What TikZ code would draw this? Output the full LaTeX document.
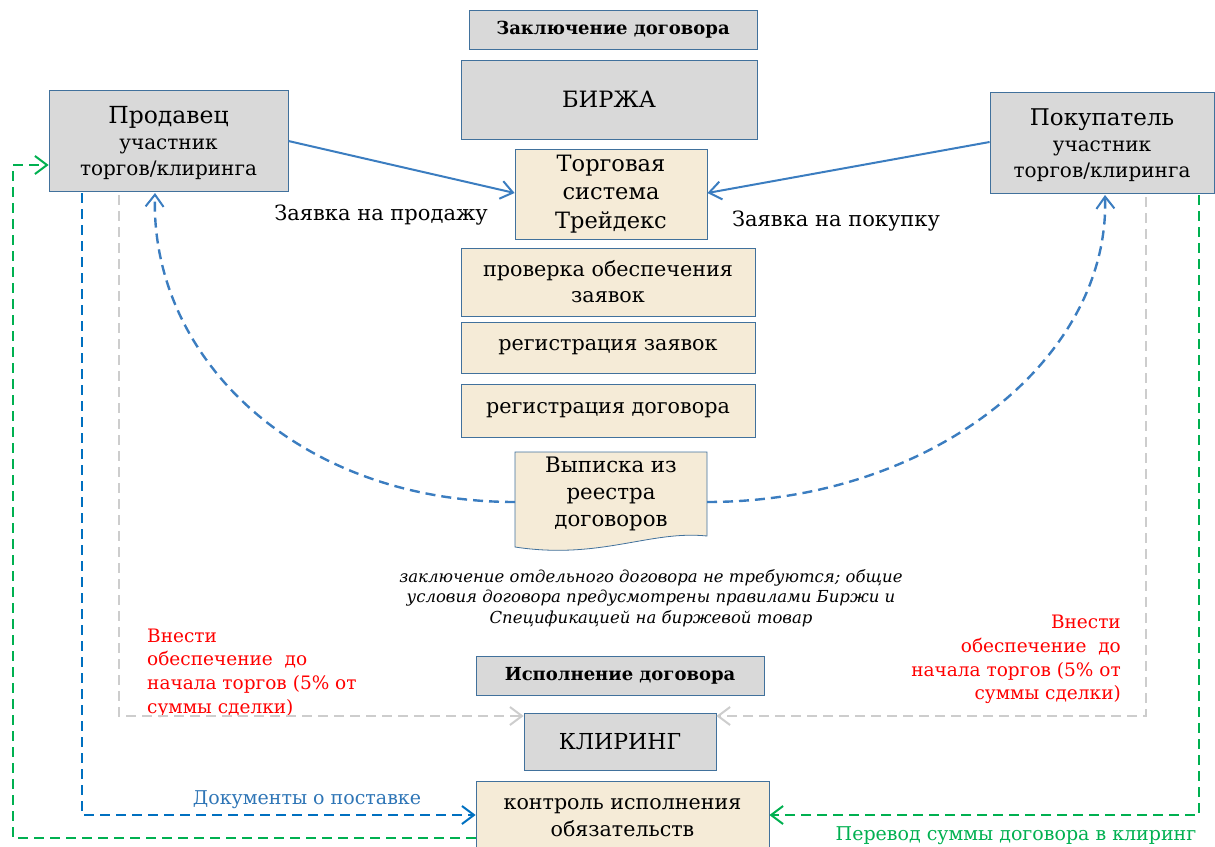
\documentclass[tikz,border=0pt]{standalone}
\usepackage{fontspec}
\setmainfont{DejaVu Serif}
\usetikzlibrary{arrows.meta}
\definecolor{bord}{HTML}{41719C}
\definecolor{grayfill}{HTML}{D9D9D9}
\definecolor{beige}{HTML}{F5EBD7}
\definecolor{sblue}{HTML}{3B7DC0}
\definecolor{dblue}{HTML}{0070C0}
\definecolor{grn}{HTML}{00B050}
\definecolor{lgray}{HTML}{CDCDCD}
\definecolor{txtblue}{HTML}{2E75B6}
\newcommand{\fs}[2]{\fontsize{#1}{#2}\selectfont}
\begin{document}
\begin{tikzpicture}[x=1pt,y=-1pt,
  box/.style={draw=bord, line width=0.8pt, inner sep=0pt, align=center},
  gbox/.style={box, fill=grayfill},
  bbox/.style={box, fill=beige},
  lbl/.style={inner sep=0pt, align=center},
  tip/.style={-{Straight Barb[length=12pt,width=18pt,line width=2pt]}},
  solidarrow/.style={sblue, line width=2pt, tip},
  dasharrow/.style={line width=2.4pt, dash pattern=on 10pt off 6pt, tip},
]
\useasboundingbox (0,0) rectangle (1215,846);

% top boxes
\node[gbox, minimum width=288, minimum height=39, font=\fs{18}{20}\bfseries] (zak) at (613,29.5) {Заключение договора};
\node[gbox, minimum width=296, minimum height=79, font=\fs{22.5}{26}] (birzha) at (609,99.5) {БИРЖА};
\node[gbox, minimum width=239, minimum height=101] (prod) at (168.5,140.5) {};
\node[lbl, font=\fs{20}{26}] (prodt) at (168.5,143)
  {{\fs{23.5}{26}Продавец}\\участник\\торгов/клиринга};
\node[gbox, minimum width=224, minimum height=101] (pok) at (1102,142.5) {};
\node[lbl, font=\fs{20}{26}] (pokt) at (1102,145)
  {{\fs{23}{26}Покупатель}\\участник\\торгов/клиринга};
\node[bbox, minimum width=192, minimum height=90, font=\fs{22.5}{28.5}] (ts) at (611,194)
  {Торговая\\система\\Трейдекс};
\node[bbox, minimum width=294, minimum height=68, font=\fs{20.7}{26}] (prov) at (608,282)
  {проверка обеспечения\\заявок};
\node[bbox, minimum width=294, minimum height=51, font=\fs{20.7}{24}] (regz) at (608,347.5)
  {регистрация заявок};
\node[bbox, minimum width=294, minimum height=53, font=\fs{20.7}{24}] (regd) at (608,410.5)
  {регистрация договора};

% document shape
\coordinate (vnw) at (515,452);
\coordinate (vne) at (707,452);
\coordinate (vse) at (707,536);
\coordinate (vsw) at (515,547);
\draw[bord, line width=0.8pt, fill=beige]
  (vnw) -- (vne) -- (vse)
  .. controls (650,530) and (600,560) .. (vsw) -- cycle;
\node[lbl, font=\fs{21.3}{27}] (vyp) at (611,494) {Выписка из\\реестра\\договоров};
\coordinate (vypw) at (515,502);
\coordinate (vype) at (707,502);

% note
\node[lbl, font=\fs{16.5}{20.5}\itshape] (note) at (651,598)
  {заключение отдельного договора не требуются; общие\\
   условия договора предусмотрены правилами Биржи и\\
   Спецификацией на биржевой товар};

% execution part
\node[gbox, minimum width=288, minimum height=39, font=\fs{18}{20}\bfseries] (isp) at (620,675.5) {Исполнение договора};
\node[gbox, minimum width=192, minimum height=57, font=\fs{22}{26}] (kl) at (620,741.5) {КЛИРИНГ};
\node[bbox, minimum width=293, minimum height=80, anchor=north] (kon) at (622.5,781) {};
\node[lbl, font=\fs{20.6}{27}] (kont) at (622.5,818) {контроль исполнения\\обязательств};

% labels
\node[lbl, font=\fs{21}{24}] (lsell) at (381,215) {Заявка на продажу};
\node[lbl, font=\fs{21}{24}] (lbuy) at (836,221) {Заявка на покупку};
\node[lbl, text=txtblue, font=\fs{19}{22}] (ldoc) at (307,800) {Документы о поставке};
\node[lbl, text=grn, font=\fs{19}{22}] (lper) at (1016,836) {Перевод суммы договора в клиринг};
\node[lbl, text=red, align=left, anchor=north west, font=\fs{18.5}{23.7}] (rl) at (147,628.5)
  {Внести\\обеспечение~~до\\начала торгов (5\% от\\суммы сделки)};
\node[lbl, text=red, align=right, anchor=north east, font=\fs{18.5}{23.7}] (rr) at (1121,615)
  {Внести\\обеспечение~~до\\начала торгов (5\% от\\суммы сделки)};

% coordinates for connectors
\coordinate (pb1) at (82,193);
\coordinate (pb2) at (119,195);
\coordinate (pb3) at (155,193);
\coordinate (kb1) at (1105,195);
\coordinate (kb2) at (1146,197);
\coordinate (kb3) at (1199,195);

% solid arrows
\draw[solidarrow] (prod.east |- 0,141) -- (ts.west |- 0,193);
\draw[solidarrow] (pok.west |- 0,142) -- (ts.east |- 0,193);

% curved dashed
\draw[dasharrow, sblue] (vypw) .. controls (300,502) and (150,360) .. (pb3);
\draw[dasharrow, sblue] (vype) .. controls (930,502) and (1110,360) .. (kb1);

% gray
\draw[dasharrow, lgray] (pb2) |- (kl.west |- 0,716);
\draw[dasharrow, lgray] (kb2) |- (kl.east |- 0,716);

% blue docs
\draw[dasharrow, dblue] (pb1) |- (kon.west |- 0,815);

% green
\draw[dasharrow, grn] (kon.west |- 0,838) -| (13,165) -- (prod.west |- 0,165);
\draw[dasharrow, grn] (kb3) |- (kon.east |- 0,815);
\end{tikzpicture}
\end{document}
